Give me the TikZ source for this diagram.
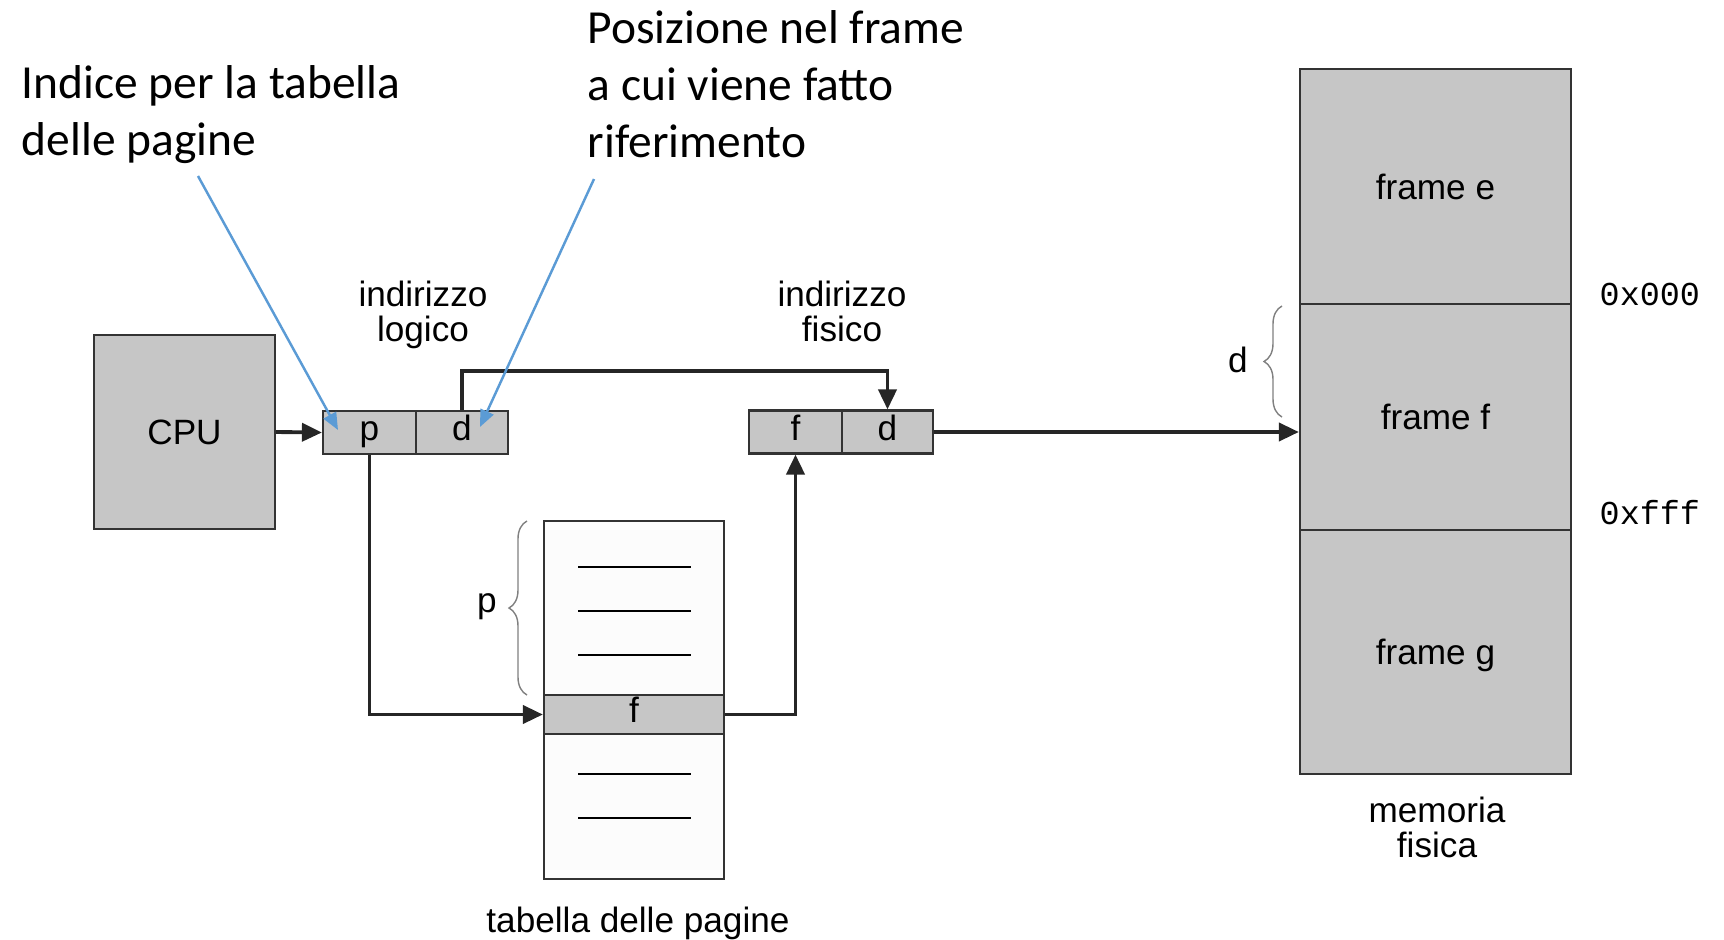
\documentclass[tikz,border=0pt]{standalone}
\usepackage{fontspec}
\setmainfont{Liberation Sans}
\newfontfamily\notefont{Carlito}
\newfontfamily\hexfont{Liberation Mono}
\usetikzlibrary{arrows.meta,decorations.pathreplacing}
\definecolor{cellgray}{RGB}{198,198,198}
\definecolor{tabwhite}{RGB}{252,252,252}
\definecolor{notearrow}{RGB}{91,155,213}
\definecolor{edgegray}{RGB}{51,51,51}
\tikzset{
  box/.style={draw=edgegray, line width=0.6pt, fill=cellgray, inner sep=0pt},
  cell/.style={box, minimum height=0.43cm, text height=6.5pt, text depth=1.8pt},
  mem/.style={box, minimum width=2.71cm, text depth=0pt},
  link/.style={line width=1.1pt, draw=black!85, -{Triangle[length=0.2cm,width=0.18cm]}},
  note/.style={draw=notearrow, line width=0.7pt, -{Triangle[length=0.17cm,width=0.14cm]}},
  lbl/.style={align=center, inner sep=0pt},
  notetext/.style={font=\notefont\fontsize{13.5}{16.2}\selectfont, align=left, inner sep=0pt},
  hex/.style={font=\hexfont\fontsize{9.5}{9.5}\selectfont, inner sep=0pt},
  brc/.style={draw=gray, line width=0.4pt, decorate, decoration={brace, amplitude=0.18cm}},
}
\begin{document}
\begin{tikzpicture}[x=0.01cm, y=-0.01cm, font=\fontsize{10}{9.9}\selectfont]
  \useasboundingbox (0,0) rectangle (1724,939);
  \node[box, minimum width=1.81cm, minimum height=1.94cm] (cpu) at (184.5,432) {CPU};
  \node[cell, minimum width=0.93cm] (lp) at (369.5,432.5) {p};
  \node[cell, minimum width=0.92cm] (ld) at (462,432.5) {d};
  \node[cell, minimum width=0.93cm] (pf) at (795.5,432) {f};
  \node[cell, minimum width=0.91cm] (pd) at (887.5,432) {d};
  \node[draw=edgegray, line width=0.6pt, fill=tabwhite, inner sep=0pt,
        minimum width=1.8cm, minimum height=3.58cm] (tab) at (634,700) {};
  \node[cell, minimum width=1.8cm, minimum height=0.39cm] (trow) at (634,714.5) {f};
  \foreach \y in {567,611,655,774,818}
    \draw[line width=0.6pt] (578,\y) -- (691,\y);
  \node[mem, minimum height=2.35cm] (fe) at (1435.5,186.5) {frame e};
  \node[mem, minimum height=2.26cm] (ff) at (1435.5,417) {frame f};
  \node[mem, minimum height=2.44cm] (fg) at (1435.5,652) {frame g};

  \node[lbl, anchor=base] (logico) at (423,341) {indirizzo\\logico};
  \node[lbl, anchor=base] (fisico) at (842,341) {indirizzo\\fisico};
  \node[lbl, anchor=base] (tabname) at (638,932) {tabella delle pagine};
  \node[lbl, anchor=base] (memname) at (1437,857) {memoria\\fisica};
  \node[hex, anchor=base west] (lo) at (1599,305) {0x000};
  \node[hex, anchor=base west] (hi) at (1599,524) {0xfff};

  \draw[brc] (527,695) -- (527,521);
  \node[lbl] (pbr) at (487,607) {p};
  \draw[brc] (1282,417) -- (1282,306);
  \node[lbl] (dbr) at (1238,360) {d};

  \draw[link] (cpu.east) -- (lp.west);
  \draw[link] (lp.south) |- (trow.west);
  \draw[link] (ld.north) -- ++(0,-39) -| (pd.north);
  \draw[link] (trow.east) -| (pf.south);
  \draw[link] (pd.east) -- (pd.east -| ff.west);

  \node[notetext, anchor=base west] (idx) at (21,155) {Indice per la tabella\\delle pagine};
  \node[notetext, anchor=base west] (off) at (587,157) {Posizione nel frame\\a cui viene fatto\\riferimento};
  \coordinate (idxfoot) at (198,176);
  \coordinate (idxtip) at (338,430);
  \coordinate (offfoot) at (594,179);
  \coordinate (offtip) at (480,427);
  \draw[note] (idxfoot) -- (idxtip);
  \draw[note] (offfoot) -- (offtip);
\end{tikzpicture}
\end{document}
